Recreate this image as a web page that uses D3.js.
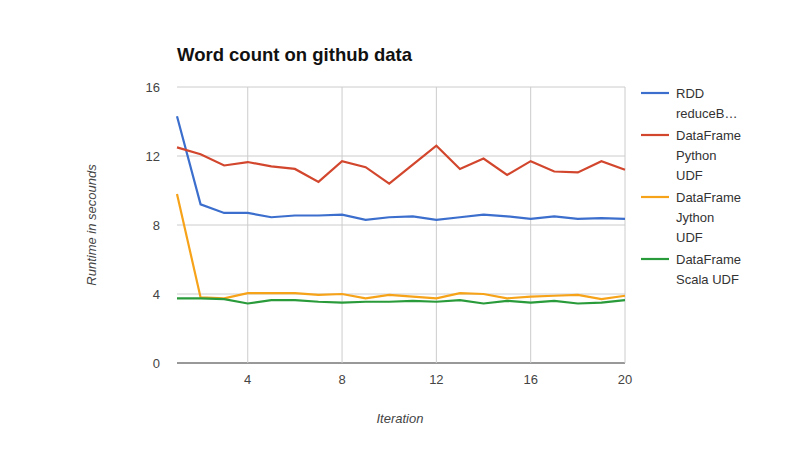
<!DOCTYPE html><html><head><meta charset="utf-8"><script src="https://d3js.org/d3.v7.min.js"></script>
<style>body{margin:0;background:#fff}text{font-family:Arial,"Liberation Sans",sans-serif}</style></head><body><svg id="c" width="800" height="450"></svg><script>
const iterations=d3.range(1,21);
const seriesNames=[["RDD","reduceB…"],["DataFrame","Python","UDF"],["DataFrame","Jython","UDF"],["DataFrame","Scala UDF"]];
const colors=["#3c6fcd","#d2462d","#f6a31a","#2a9b3a"];
const rdd=[14.3,9.2,8.7,8.7,8.45,8.55,8.55,8.6,8.3,8.45,8.5,8.3,8.45,8.6,8.5,8.35,8.5,8.35,8.4,8.35];
const python=[12.5,12.1,11.45,11.65,11.4,11.25,10.5,11.7,11.35,10.4,11.5,12.6,11.25,11.85,10.9,11.7,11.1,11.05,11.7,11.2];
const jython=[9.8,3.8,3.75,4.05,4.05,4.05,3.95,4.0,3.75,3.95,3.85,3.75,4.05,4.0,3.75,3.85,3.9,3.95,3.7,3.9];
const scala=[3.75,3.75,3.7,3.45,3.65,3.65,3.55,3.5,3.55,3.55,3.6,3.55,3.65,3.45,3.6,3.5,3.6,3.45,3.5,3.65];
const series=[rdd,python,jython,scala];
const xTicks=[4,8,12,16,20], yTicks=[0,4,8,12,16];
const svg=d3.select("#c");
const x=d3.scaleLinear().domain([1,20]).range([177,625]);
const y=d3.scaleLinear().domain([0,16]).range([363,87]);
const g=svg.append("g");
g.selectAll(".gy").data(yTicks).join("line").attr("x1",177).attr("x2",625).attr("y1",d=>y(d)).attr("y2",d=>y(d)).attr("stroke",d=>d===0?"#333":"#ccc");
g.selectAll(".gx").data(xTicks).join("line").attr("y1",87).attr("y2",363).attr("x1",d=>x(d)).attr("x2",d=>x(d)).attr("stroke","#ccc");
g.selectAll(".yl").data(yTicks).join("text").attr("x",160).attr("y",d=>y(d)+5).attr("text-anchor","end").attr("font-size",13).attr("fill","#444").text(d=>d);
g.selectAll(".xl").data(xTicks).join("text").attr("x",d=>x(d)).attr("y",384).attr("text-anchor","middle").attr("font-size",13).attr("fill","#444").text(d=>d);
const line=d3.line().x((d,i)=>x(iterations[i])).y(d=>y(d));
series.forEach((s,k)=>g.append("path").datum(s).attr("d",line).attr("fill","none").attr("stroke",colors[k]).attr("stroke-width",2.2));
svg.append("text").attr("x",177).attr("y",61).attr("font-size",18.5).attr("font-weight","bold").attr("fill","#111").text("Word count on github data");
svg.append("text").attr("x",400).attr("y",423).attr("text-anchor","middle").attr("font-size",13).attr("font-style","italic").attr("fill","#444").text("Iteration");
svg.append("text").attr("transform","translate(96,225) rotate(-90)").attr("text-anchor","middle").attr("font-size",13).attr("font-style","italic").attr("fill","#444").text("Runtime in secounds");
const ly=[93,135,197,259];
seriesNames.forEach((n,k)=>{
 svg.append("line").attr("x1",641).attr("x2",669).attr("y1",ly[k]).attr("y2",ly[k]).attr("stroke",colors[k]).attr("stroke-width",2.2);
 n.forEach((t,j)=>svg.append("text").attr("x",676).attr("y",ly[k]+5+j*20).attr("font-size",13).attr("fill","#333").text(t));
});
</script></body></html>
